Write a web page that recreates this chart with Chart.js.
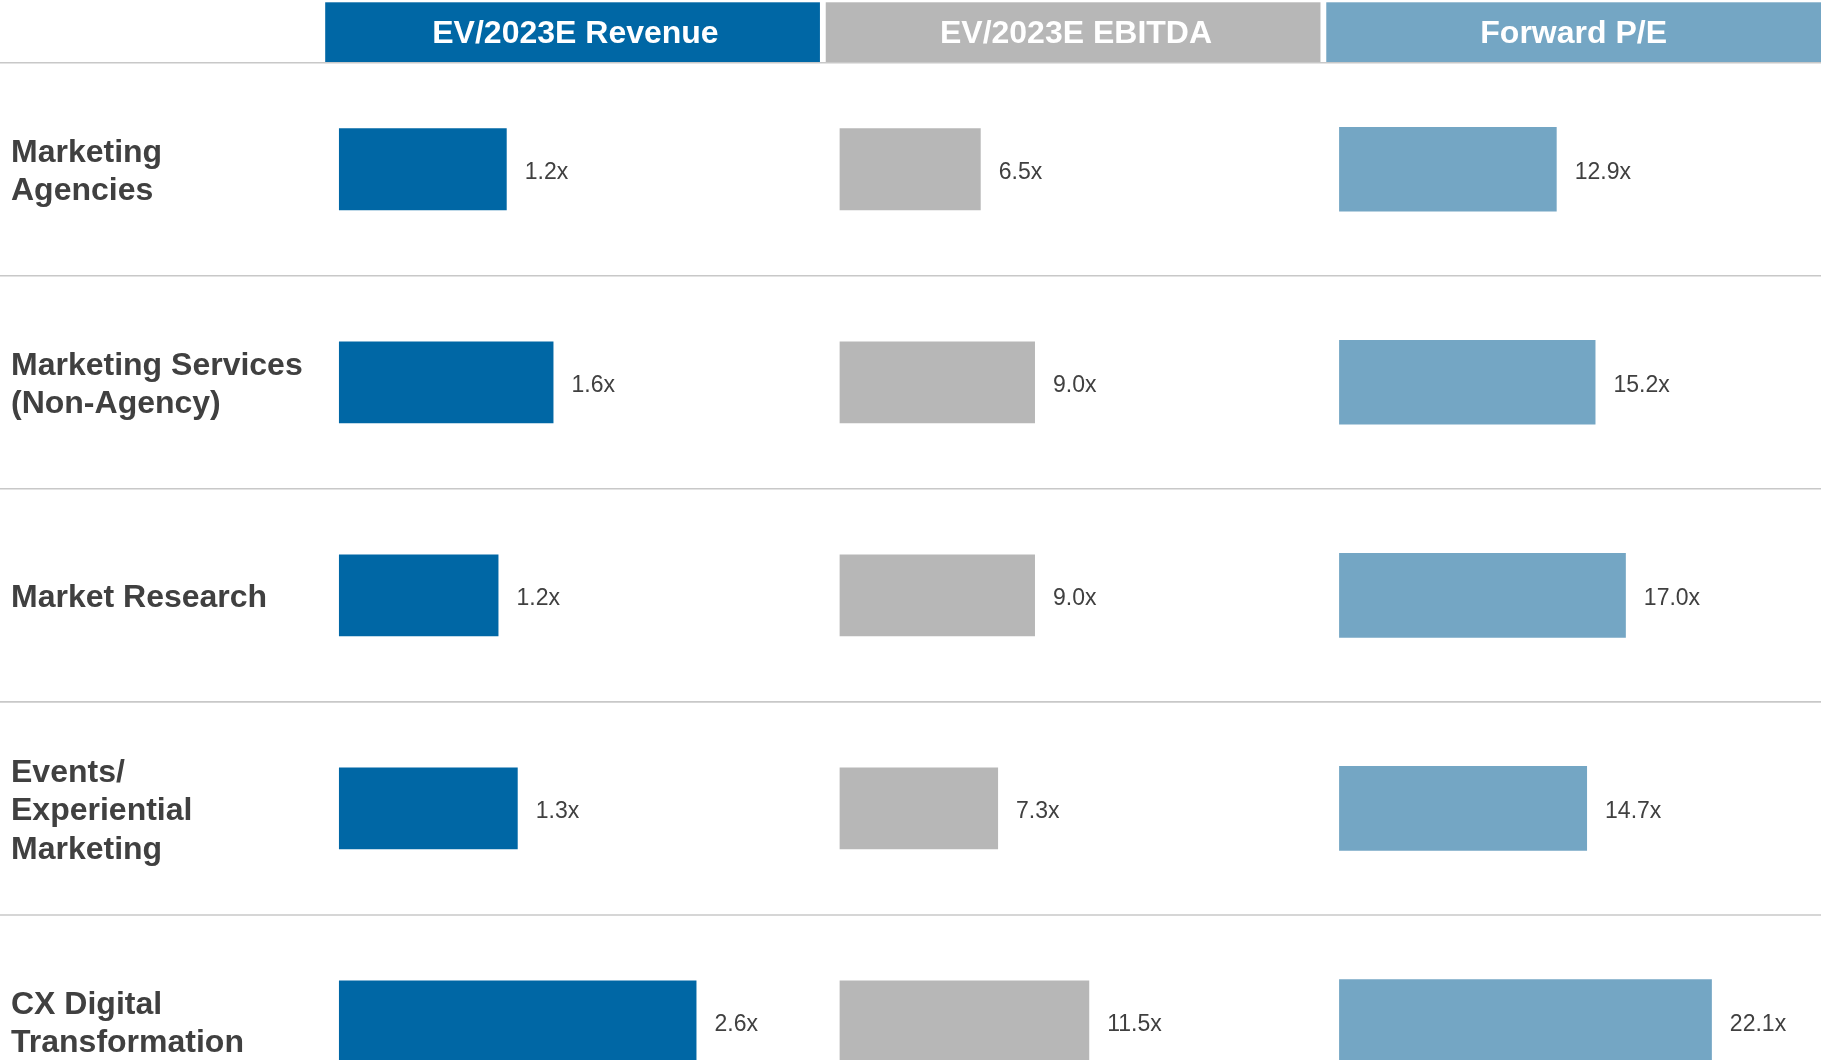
<!doctype html>
<html lang="en">
<head>
<meta charset="utf-8">
<title>Valuation multiples by segment</title>
<script src="https://cdn.jsdelivr.net/npm/chart.js@4.4.1/dist/chart.umd.min.js"></script>
<style>
  html, body { margin: 0; padding: 0; background: #fff; overflow: hidden; }
  #wrap { position: relative; width: 1821px; height: 1060px; overflow: hidden; }
  #multiplesChart { display: block; }
</style>
</head>
<body>
<div id="wrap"><canvas id="multiplesChart" width="1821" height="1128"></canvas></div>

<script>
// segment names (multi-line tick labels)
var segments = [
  ['Marketing', 'Agencies'],
  ['Marketing Services', '(Non-Agency)'],
  'Market Research',
  ['Events/', 'Experiential', 'Marketing'],
  ['CX Digital', 'Transformation']
];
var metricNames = ['EV/2023E Revenue', 'EV/2023E EBITDA', 'Forward P/E'];

// multiples
var evRevenue = [1.22, 1.56, 1.16, 1.30, 2.60];
var evEbitda  = [6.5, 9.0, 9.0, 7.3, 11.5];
var forwardPE = [12.9, 15.2, 17.0, 14.7, 22.1];

var colors = ['#0067a5', '#b7b7b7', '#74a6c4'];
var textGray = '#404040';
var lineGray = '#c8c8c8';
var axisIds = ['xRev', 'xEbitda', 'xPe'];

// header boxes behind the x-axis titles, separators and value labels
var headerPlugin = {
  id: 'headers',
  beforeDraw: function(chart) {
    var ctx = chart.ctx;
    axisIds.forEach(function(id, i) {
      var s = chart.scales[id];
      var gap = s.right < chart.width - 1 ? 5.8 : 0;
      ctx.save();
      ctx.fillStyle = colors[i];
      ctx.fillRect(s.left, s.top, s.width - gap, s.height);
      ctx.restore();
    });
  },
  afterDraw: function(chart) {
    var ctx = chart.ctx;
    var y = chart.scales.y;
    var band = y.getPixelForTick(1) - y.getPixelForTick(0);
    ctx.save();
    ctx.strokeStyle = lineGray;
    ctx.lineWidth = 1.6;
    for (var i = 0; i < segments.length; i++) {
      var py = y.getPixelForTick(i) - band / 2;
      ctx.beginPath();
      ctx.moveTo(0, py);
      ctx.lineTo(chart.width, py);
      ctx.stroke();
    }
    ctx.restore();
  },
  afterDatasetsDraw: function(chart) {
    var ctx = chart.ctx;
    ctx.save();
    ctx.font = '23px "Liberation Sans", Arial, sans-serif';
    ctx.fillStyle = textGray;
    ctx.textAlign = 'left';
    ctx.textBaseline = 'middle';
    chart.data.datasets.forEach(function(ds, di) {
      chart.getDatasetMeta(di).data.forEach(function(bar, i) {
        ctx.fillText(ds.data[i].toFixed(1) + 'x', bar.x + 18, bar.y + 3);
      });
    });
    ctx.restore();
  }
};

function topAxis(title, min, max, weight) {
  return {
    type: 'linear',
    position: 'top',
    stack: 'metrics',
    stackWeight: weight,
    min: min,
    max: max,
    grid: { display: false },
    border: { display: false },
    ticks: { display: false },
    title: {
      display: true,
      text: title,
      color: '#ffffff',
      font: { family: '"Liberation Sans", Arial, sans-serif', size: 32, weight: 'bold' },
      padding: { top: 12.3, bottom: 0 }
    },
    afterFit: function(s) { s.height = 60.4; }
  };
}

var ctx = document.getElementById('multiplesChart').getContext('2d');
var multiplesChart = new Chart(ctx, {
  type: 'bar',
  data: {
    labels: segments,
    datasets: [
      { label: metricNames[0], data: evRevenue, xAxisID: 'xRev', backgroundColor: colors[0],
        grouped: false, barPercentage: 0.384, categoryPercentage: 1 },
      { label: metricNames[1], data: evEbitda, xAxisID: 'xEbitda', backgroundColor: colors[1],
        grouped: false, barPercentage: 0.384, categoryPercentage: 1 },
      { label: metricNames[2], data: forwardPE, xAxisID: 'xPe', backgroundColor: colors[2],
        grouped: false, barPercentage: 0.397, categoryPercentage: 1 }
    ]
  },
  options: {
    indexAxis: 'y',
    responsive: false,
    animation: false,
    layout: { padding: { top: 2.3, left: 11, right: 0, bottom: 0 } },
    plugins: {
      legend: { display: false },
      tooltip: { enabled: false }
    },
    scales: {
      y: {
        type: 'category',
        position: 'left',
        grid: { display: false },
        border: { display: false },
        ticks: {
          crossAlign: 'far',
          labelOffset: 3,
          color: textGray,
          font: { family: '"Liberation Sans", Arial, sans-serif', size: 32, weight: 'bold', lineHeight: 1.2 }
        },
        afterFit: function(s) {
          s.width = 325.2 - 11;
          // let the last row run off the bottom like the original slide
          s.paddingTop = 0;
          s.paddingBottom = 0;
        }
      },
      // top boxes get laid out in reverse, so the last column is listed first
      xPe: topAxis(metricNames[2], -0.76, 28.57, 0.9884),
      xEbitda: topAxis(metricNames[1], -0.64, 22.42, 1),
      xRev: topAxis(metricNames[0], -0.1, 3.54, 1)
    }
  },
  plugins: [headerPlugin]
});
</script>
</body>
</html>
